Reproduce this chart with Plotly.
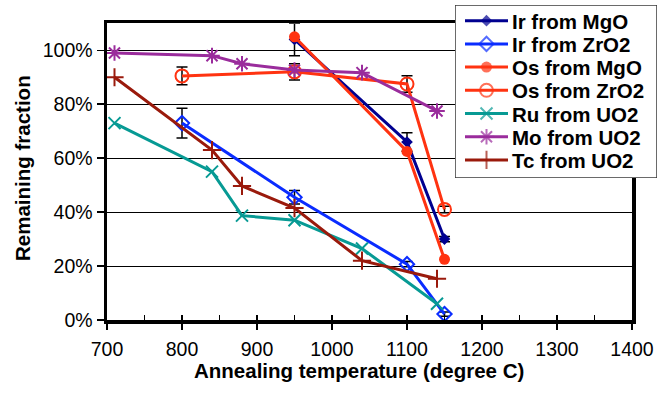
import plotly.graph_objects as go

# ---------------- data ----------------
series_names = ["Ir from MgO", "Ir from ZrO2", "Os from MgO", "Os from ZrO2",
                "Ru from UO2", "Mo from UO2", "Tc from UO2"]

temps_ox = [800, 950, 1100, 1150]
temps_mgo = [950, 1100, 1150]
temps_uo2 = [710, 840, 880, 950, 1040, 1140]

ir_mgo = [104, 66, 30]
ir_mgo_err = [6, 3.4, 1]
ir_zro2 = [73, 45.5, 20.7, 2.2]
ir_zro2_err = [5.5, 2.5, 1, 0.8]
os_mgo = [105, 62.5, 22.5]
os_zro2 = [90.5, 92, 87.5, 41]
os_zro2_err = [3.3, 3, 3.1, 1.2]
ru_uo2 = [73, 55, 38.7, 37, 26.5, 6]
mo_uo2 = [99, 98, 95, 92.7, 91.7, 77.5]
tc_uo2 = [90, 63, 49.7, 41.5, 22, 15.3]

x_ticks = [700, 800, 900, 1000, 1100, 1200, 1300, 1400]
y_ticks = [0, 20, 40, 60, 80, 100]
y_tick_labels = ["0%", "20%", "40%", "60%", "80%", "100%"]

colors = ["#000090", "#0a2cff", "#ff3311", "#ff3311", "#079a94", "#9a2c9c", "#9a1a0c"]
symbols = ["diamond", "diamond-open", "circle", "circle-open", "x-thin-open",
           "asterisk-open", "cross-thin-open"]
msizes = [9, 11, 11, 13, 12, 13, 13]

series = [
    (temps_mgo, ir_mgo, ir_mgo_err),
    (temps_ox, ir_zro2, ir_zro2_err),
    (temps_mgo, os_mgo, None),
    (temps_ox, os_zro2, os_zro2_err),
    (temps_uo2, ru_uo2, None),
    (temps_uo2, mo_uo2, None),
    (temps_uo2, tc_uo2, None),
]

# ---------------- geometry (pixels) ----------------
W, H = 670, 390
L, R, T, B = 107, 10, 4, 70
PW, PH = W - L - R, H - T - B
plot_bottom = H - B
plot_right, plot_top = 632, 23.3
leg_x0, leg_x1, leg_y0, leg_y1 = 455, 657, 5, 178

def px(x):
    return (x - L) / PW

def py(y):
    return (plot_bottom - y) / PH

FONT = "Liberation Sans, Arial, Helvetica, sans-serif"

fig = go.Figure()

for i, (xs, ys, err) in enumerate(series):
    lw = 2 if "open" in symbols[i] else 0
    fig.add_trace(go.Scatter(
        x=xs, y=ys, name=series_names[i], mode="lines+markers",
        line=dict(color=colors[i], width=3),
        marker=dict(symbol=symbols[i], size=msizes[i], color=colors[i],
                    line=dict(width=lw, color=colors[i])),
        error_y=(dict(type="data", array=err, visible=True, color="black",
                      thickness=1.5, width=5.5) if err else None),
        showlegend=False, hoverinfo="skip",
    ))

# overlay axis for inside ticks (cross major ticks + inside minor ticks)
fig.add_trace(go.Scatter(x=[None], y=[None], xaxis="x2", yaxis="y",
                         showlegend=False, hoverinfo="skip"))

# custom legend samples
row_y0, row_dy = 20.7, 23.2
for i, name in enumerate(series_names):
    ry = row_y0 + i * row_dy
    lw = 2 if "open" in symbols[i] else 0
    fig.add_trace(go.Scatter(
        x=[465, 486.5, 508], y=[ry, ry, ry], xaxis="x3", yaxis="y3",
        mode="lines+markers",
        line=dict(color=colors[i], width=3),
        marker=dict(symbol=symbols[i], size=[0, msizes[i], 0], color=colors[i],
                    line=dict(width=lw, color=colors[i])),
        showlegend=False, hoverinfo="skip",
    ))
    fig.add_annotation(x=510, y=ry + 0.5, xref="x3", yref="y3", text=name,
                       showarrow=False, xanchor="left", yanchor="middle",
                       font=dict(family=FONT, size=20.5, color="black", weight="bold"))

fig.add_shape(type="rect", xref="x3", yref="y3", x0=leg_x0, x1=leg_x1,
              y0=leg_y0, y1=leg_y1, layer="below",
              line=dict(color="#3a3a3a", width=1.5), fillcolor="white")

# axis titles
fig.add_annotation(x=px(358.5), y=py(370), xref="paper", yref="paper",
                   text="Annealing temperature (degree C)", showarrow=False,
                   xanchor="center", yanchor="middle",
                   font=dict(family=FONT, size=20.5, color="black", weight="bold"))
fig.add_annotation(x=px(22), y=py(168), xref="paper", yref="paper",
                   text="Remaining fraction", showarrow=False, textangle=-90,
                   xanchor="center", yanchor="middle",
                   font=dict(family=FONT, size=20.5, color="black", weight="bold"))

xdom = [0, px(plot_right)]
ydom = [0, py(plot_top)]

hidden = dict(showgrid=False, zeroline=False, showticklabels=False,
              showline=False, ticks="", fixedrange=True, automargin=False)

fig.update_layout(
    template="none",
    width=W, height=H, autosize=False,
    margin=dict(l=L, r=R, t=T, b=B, pad=0, autoexpand=False),
    paper_bgcolor="white", plot_bgcolor="white",
    showlegend=False,
    font=dict(family=FONT, color="black"),
    xaxis=dict(domain=xdom, range=[700, 1400], tickvals=x_ticks, automargin=False,
               ticks="outside", ticklen=6, tickwidth=1.5, tickcolor="black",
               showline=True, linewidth=3.5, linecolor="black", mirror=True,
               showgrid=False, zeroline=False, ticklabelstandoff=3,
               tickfont=dict(family=FONT, size=19.5, color="black"),
               fixedrange=True),
    xaxis2=dict(overlaying="x", anchor="y", side="bottom", range=[700, 1400],
                dtick=50, tick0=700, ticks="inside", ticklen=5, tickwidth=1.5,
                tickcolor="black", showticklabels=False, showline=False,
                showgrid=False, zeroline=False, fixedrange=True, automargin=False),
    yaxis=dict(domain=ydom, range=[0, 110], tickvals=y_ticks, ticktext=y_tick_labels,
               automargin=False,
               ticks="outside", ticklen=7, tickwidth=1.5, tickcolor="black",
               showline=True, linewidth=3.5, linecolor="black", mirror=True,
               showgrid=True, gridcolor="black", gridwidth=1, zeroline=False,
               tickfont=dict(family=FONT, size=19.5, color="black"),
               fixedrange=True),
    xaxis3=dict(domain=[px(leg_x0), px(leg_x1)], anchor="y3", range=[leg_x0, leg_x1],
                **hidden),
    yaxis3=dict(domain=[py(leg_y1), py(leg_y0)], anchor="x3", range=[leg_y1, leg_y0],
                **hidden),
)

fig.write_html("out.html",
               config={"responsive": False, "displayModeBar": False, "staticPlot": True},
               post_script="document.body.style.margin='0';"
                           "document.documentElement.style.overflow='hidden';"
                           "document.body.style.overflow='hidden';")
